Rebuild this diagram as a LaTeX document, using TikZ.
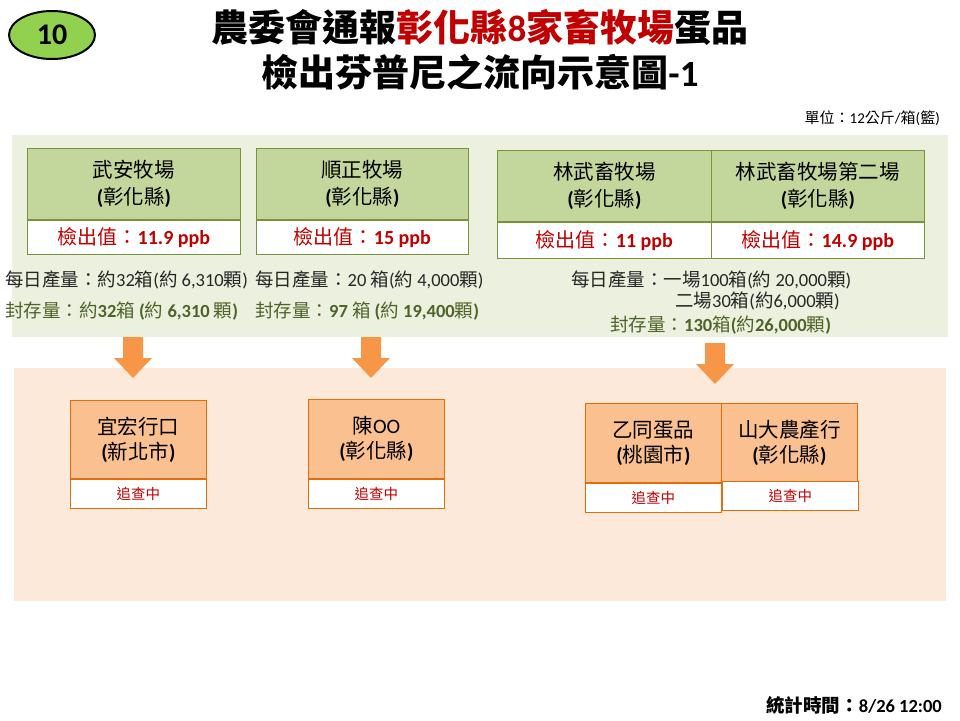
\documentclass[tikz,border=0pt]{standalone}
\usepackage{fontspec}
\setmainfont{Noto Sans CJK TC}
\newfontfamily\latfont{Carlito}
\usetikzlibrary{shapes.geometric}
\newcommand\lnum[1]{{\latfont #1}}
\newcommand\bnum[1]{{\latfont\bfseries #1}}
\newcommand\fsz[2]{\fontsize{#1}{#2}\selectfont}
\definecolor{gbg}{HTML}{EBF1DE}
\definecolor{ghead}{HTML}{C3D69B}
\definecolor{gborder}{HTML}{77933C}
\definecolor{hred}{HTML}{C00000}
\definecolor{olive}{HTML}{4F6228}
\definecolor{obg}{HTML}{FDE9D9}
\definecolor{ohead}{HTML}{FAC090}
\definecolor{oborder}{HTML}{E46C0A}
\definecolor{oarrow}{HTML}{F79646}
\definecolor{badgegreen}{HTML}{92D050}
\tikzset{
  farmhead/.style={draw=gborder, fill=ghead, anchor=north west, inner sep=0pt, align=center,
    font=\fsz{20.5}{27}, line width=0.8pt},
  farmval/.style={draw=gborder, fill=white, anchor=north west, inner sep=0pt, text=hred,
    font=\fsz{20}{22}, line width=0.8pt},
  desthead/.style={draw=oborder, fill=ohead, anchor=north west, inner sep=0pt, align=center,
    font=\fsz{20.5}{25}, line width=0.8pt},
  desttag/.style={draw=oborder, fill=white, anchor=north west, inner sep=0pt, text=hred,
    font=\fsz{14.5}{16}, line width=0.8pt},
  prod/.style={anchor=west, inner sep=0pt, font=\fsz{18.5}{20}, text=black!85},
  stock/.style={anchor=west, inner sep=0pt, font=\fsz{18.5}{20}, text=olive},
  blockarrow/.style={fill=oarrow, draw=none},
}
\begin{document}
\begin{tikzpicture}[x=1pt,y=-1pt]
\useasboundingbox (0,0) rectangle (960,720);
% badge
\node[ellipse, draw=black, line width=2pt, fill=badgegreen, minimum width=86pt, minimum height=48pt,
  font=\fsz{30}{32}\bfseries] (badge) at (52,35) {\lnum{10}};
% title
\node[font=\fsz{37}{40}\bfseries] (t1) at (480,27)
  {農委會通報\textcolor{hred}{彰化縣\lnum{8}家畜牧場}蛋品};
\node[font=\fsz{37}{40}\bfseries] (t2) at (480,72) {檢出芬普尼之流向示意圖\lnum{-1}};
\node[anchor=east, inner sep=0pt, font=\fsz{15}{17}] (unit) at (940,118) {單位：\lnum{12}公斤\lnum{/}箱\lnum{(}籃\lnum{)}};
% backgrounds
\fill[gbg] (12,135) rectangle (948,337);
\fill[obg] (14,368) rectangle (946,601);
% farms
\node[farmhead, minimum width=213pt, minimum height=71pt] (f1) at (27,148) {武安牧場\\\bnum{(}彰化縣\bnum{)}};
\node[farmval, minimum width=213pt, minimum height=34pt] (f1v) at (f1.south west) {檢出值：\bnum{11.9 ppb}};
\node[farmhead, minimum width=212pt, minimum height=71pt] (f2) at (256,148) {順正牧場\\\bnum{(}彰化縣\bnum{)}};
\node[farmval, minimum width=212pt, minimum height=34pt] (f2v) at (f2.south west) {檢出值：\bnum{15 ppb}};
\node[farmhead, minimum width=214pt, minimum height=71pt] (f3) at (497,150) {林武畜牧場\\\bnum{(}彰化縣\bnum{)}};
\node[farmval, minimum width=214pt, minimum height=36pt] (f3v) at (f3.south west) {檢出值：\bnum{11 ppb}};
\node[farmhead, minimum width=213pt, minimum height=71pt] (f4) at (711,150) {林武畜牧場第二場\\\bnum{(}彰化縣\bnum{)}};
\node[farmval, minimum width=213pt, minimum height=36pt] (f4v) at (f4.south west) {檢出值：\bnum{14.9 ppb}};
% production lines
\node[prod] (p1) at (5,280) {每日產量：約\lnum{32}箱\lnum{(}約 \lnum{6,310}顆\lnum{)}};
\node[prod] (p2) at (255,280) {每日產量：\lnum{20} 箱\lnum{(}約 \lnum{4,000}顆\lnum{)}};
\node[stock] (s1) at (5,311) {封存量：約\bnum{32}箱 \bnum{(}約 \bnum{6,310} 顆\bnum{)}};
\node[stock] (s2) at (255,311) {封存量：\bnum{97} 箱 \bnum{(}約 \bnum{19,400}顆\bnum{)}};
\node[prod] (p3) at (571,280) {每日產量：一場\lnum{100}箱\lnum{(}約 \lnum{20,000}顆\lnum{)}};
\node[prod] (p4) at (675,301) {二場\lnum{30}箱\lnum{(}約\lnum{6,000}顆\lnum{)}};
\node[stock] (s3) at (610,325) {封存量：\bnum{130}箱\bnum{(}約\bnum{26,000}顆\bnum{)}};
% arrows
\coordinate (a1) at (133,337);
\coordinate (a2) at (371,337);
\coordinate (a3) at (715,343);
\foreach \a in {a1,a2,a3}{
  \fill[blockarrow] (\a) ++(-10,0) -- ++(20,0) -- ++(0,21) -- ++(9,0) -- ++(-19,20) -- ++(-19,-20) -- ++(9,0) -- cycle;
}
% destinations
\node[desthead, minimum width=136pt, minimum height=78pt] (d1) at (70,400) {宜宏行口\\\bnum{(}新北市\bnum{)}};
\node[desttag, minimum width=136pt, minimum height=29pt] (d1t) at (d1.south west) {追查中};
\node[desthead, minimum width=136pt, minimum height=79pt] (d2) at (308,399) {陳\lnum{OO}\\\bnum{(}彰化縣\bnum{)}};
\node[desttag, minimum width=136pt, minimum height=29pt] (d2t) at (d2.south west) {追查中};
\node[desthead, minimum width=136pt, minimum height=79pt] (d3) at (585,403) {乙同蛋品\\\bnum{(}桃園市\bnum{)}};
\node[desttag, minimum width=136pt, minimum height=29pt] (d3t) at (d3.south west) {追查中};
\node[desthead, minimum width=136pt, minimum height=78pt] (d4) at (721,403) {山大農產行\\\bnum{(}彰化縣\bnum{)}};
\node[desttag, minimum width=136pt, minimum height=29pt] (d4t) at (722,481) {追查中};
% footer
\node[anchor=east, inner sep=0pt, font=\fsz{18.5}{20}\bfseries] (foot) at (942,705) {統計時間：\lnum{8/26 12:00}};
\end{tikzpicture}
\end{document}
